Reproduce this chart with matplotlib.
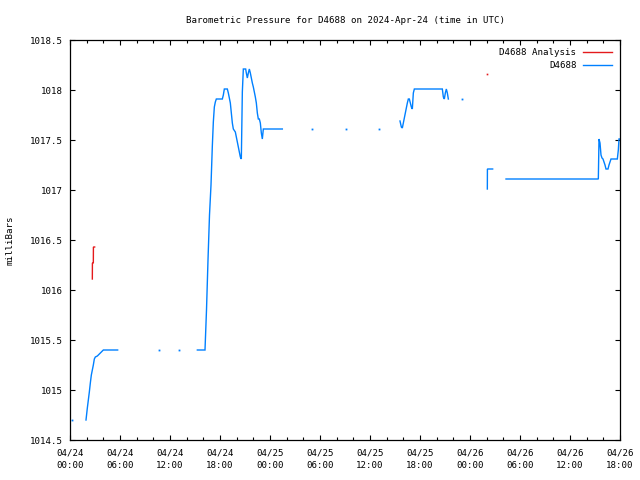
import numpy as np
import matplotlib
matplotlib.use("Agg")
import matplotlib.pyplot as plt
from matplotlib.lines import Line2D
from matplotlib.ticker import MultipleLocator

nan = np.nan

# hours since 2024-04-24 00:00 UTC
obs_hours = [
    1.92, 2.08, 2.20, 2.32, 2.44, 2.56, 2.68, 2.80, 2.92, 3.04, 3.28, 3.52, 3.76, 4.00, 5.72, nan,
    15.28, 16.20, 16.38, 16.56, 16.74, 16.92, 17.08, 17.20, 17.32, 17.44, 17.56, 18.28, 18.40,
    18.52, 18.88, 19.00, 19.12, 19.24, 19.36, 19.48, 19.60, 19.84, 19.96, 20.08, 20.20, 20.32,
    20.44, 20.56, 20.68, 20.80, 21.08, 21.16, 21.28, 21.40, 21.52, 21.64, 21.76, 21.88, 22.00,
    22.12, 22.24, 22.36, 22.48, 22.60, 22.72, 22.84, 22.96, 23.08, 23.20, 25.48, nan,
    39.60, 39.76, 39.88, 40.00, 40.12, 40.24, 40.36, 40.48, 40.60, 40.72, 40.84, 40.96, 41.08,
    41.20, 41.32, 44.68, 44.80, 44.92, 45.04, 45.16, 45.28, 45.40, nan,
    50.08, 50.09, 50.72, nan,
    52.32, 63.40, 63.48, 63.60, 63.72, 63.84, 63.96, 64.08, 64.20, 64.32, 64.56, 64.68, 64.80,
    64.92, 65.68, 65.80, 65.88, 66.00,
]
obs_mb = [
    1014.70, 1014.82, 1014.90, 1014.98, 1015.07, 1015.15, 1015.20, 1015.25, 1015.31, 1015.33,
    1015.34, 1015.36, 1015.38, 1015.40, 1015.40, nan,
    1015.40, 1015.40, 1015.80, 1016.30, 1016.75, 1017.05, 1017.44, 1017.68, 1017.83, 1017.88,
    1017.91, 1017.91, 1017.95, 1018.01, 1018.01, 1017.97, 1017.92, 1017.87, 1017.77, 1017.67,
    1017.61, 1017.58, 1017.53, 1017.48, 1017.43, 1017.38, 1017.33, 1017.31, 1017.98, 1018.21,
    1018.21, 1018.17, 1018.12, 1018.17, 1018.21, 1018.17, 1018.12, 1018.07, 1018.03, 1017.98,
    1017.93, 1017.87, 1017.77, 1017.71, 1017.71, 1017.67, 1017.57, 1017.51, 1017.61, 1017.61, nan,
    1017.69, 1017.63, 1017.62, 1017.67, 1017.72, 1017.77, 1017.82, 1017.87, 1017.91, 1017.91,
    1017.87, 1017.83, 1017.81, 1017.97, 1018.01, 1018.01, 1017.93, 1017.91, 1017.97, 1018.01,
    1017.97, 1017.91, nan,
    1017.01, 1017.21, 1017.21, nan,
    1017.11, 1017.11, 1017.51, 1017.47, 1017.35, 1017.32, 1017.31, 1017.28, 1017.25, 1017.21,
    1017.21, 1017.25, 1017.28, 1017.31, 1017.31, 1017.40, 1017.51, 1017.51,
]
obs_dot_hours = [0.24, 10.72, 13.12, 29.08, 33.16, 37.12, 47.08]
obs_dot_mb = [1014.70, 1015.40, 1015.40, 1017.61, 1017.61, 1017.61, 1017.91]

ana_hours = [2.68, 2.69, 2.80, 2.81, 2.96]
ana_mb = [1016.11, 1016.27, 1016.27, 1016.43, 1016.43]
ana_dot_hours = [50.08]
ana_dot_mb = [1018.16]

xtick_hours = [0, 6, 12, 18, 24, 30, 36, 42, 48, 54, 60, 66]
xtick_labels = ["04/24\n00:00", "04/24\n06:00", "04/24\n12:00", "04/24\n18:00",
                "04/25\n00:00", "04/25\n06:00", "04/25\n12:00", "04/25\n18:00",
                "04/26\n00:00", "04/26\n06:00", "04/26\n12:00", "04/26\n18:00"]
ytick_vals = [1014.5, 1015, 1015.5, 1016, 1016.5, 1017, 1017.5, 1018, 1018.5]
ytick_labels = ["1014.5", "1015", "1015.5", "1016", "1016.5", "1017", "1017.5", "1018", "1018.5"]

RED = "#e41a1c"
BLUE = "#0080ff"
FONT = "DejaVu Sans Mono"
FS = 6.6

plt.rcParams['font.family'] = [FONT]

fig = plt.figure(figsize=(6.4, 4.8), dpi=100)
ax = fig.add_axes([70/640, 40/480, 550/640, 400/480])

ax.plot(ana_hours, ana_mb, color=RED, lw=1.0, solid_joinstyle='miter')
ax.plot(ana_dot_hours, ana_dot_mb, ls='none', marker='s', ms=1.2, mew=0, color=RED)
ax.plot(obs_hours, obs_mb, color=BLUE, lw=1.0, solid_joinstyle='miter')
ax.plot(obs_dot_hours, obs_dot_mb, ls='none', marker='s', ms=1.3, mew=0, color=BLUE)

ax.set_xlim(0, 66)
ax.set_ylim(1014.5, 1018.5)
ax.set_xticks(xtick_hours)
ax.set_xticklabels(xtick_labels, fontsize=FS, linespacing=1.55)
ax.xaxis.set_minor_locator(MultipleLocator(2))
ax.set_yticks(ytick_vals)
ax.set_yticklabels(ytick_labels, fontsize=FS)
ax.tick_params(axis='both', which='both', direction='in', top=True, right=True,
               width=0.8, color='black')
ax.tick_params(axis='y', which='major', length=3.5, pad=5)
ax.tick_params(axis='x', which='major', length=3.5, pad=6)
ax.tick_params(axis='x', which='minor', length=2.5)
for s in ax.spines.values():
    s.set_linewidth(0.9)

ax.set_title("Barometric Pressure for D4688 on 2024-Apr-24 (time in UTC)",
             fontsize=FS, pad=12)
ax.set_ylabel("milliBars", fontsize=FS, labelpad=11)

handles = [Line2D([], [], color=RED, lw=1.0), Line2D([], [], color=BLUE, lw=1.0)]
ax.legend(handles, ["D4688 Analysis", "D4688"], loc='upper right', frameon=False,
          markerfirst=False, fontsize=FS, handlelength=3.2, handletextpad=0.7,
          labelspacing=0.45, borderaxespad=0.75, borderpad=0.1)

fig.savefig("out.png", dpi=100)
